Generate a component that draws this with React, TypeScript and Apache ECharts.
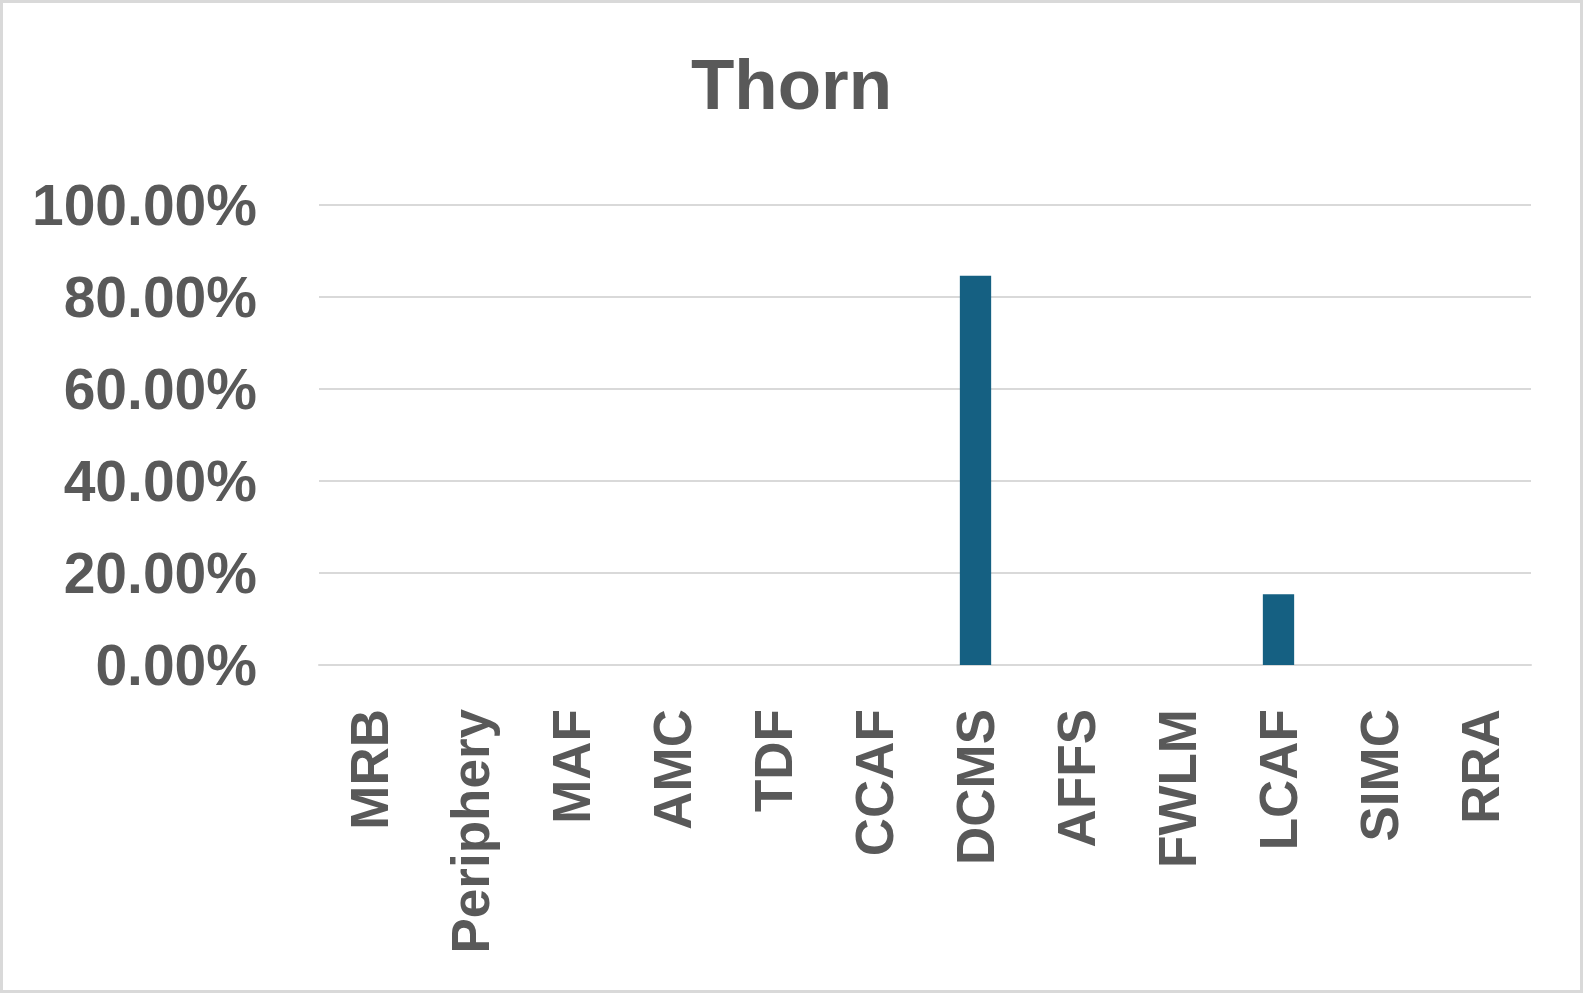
import React, { useEffect, useRef } from "react";
import * as echarts from "echarts";

const categories = ["MRB", "Periphery", "MAF", "AMC", "TDF", "CCAF", "DCMS", "AFFS", "FWLM", "LCAF", "SIMC", "RRA"];
const values = [0, 0, 0, 0, 0, 0, 0.8462, 0, 0, 0.1538, 0, 0];
const titleText = "Thorn";

export default function App() {
  const ref = useRef<HTMLDivElement>(null);
  useEffect(() => {
    if (!ref.current) return;
    const chart = echarts.init(ref.current, null, { renderer: "svg" });
    const font = "'Liberation Sans', Arial, sans-serif";
    chart.setOption({
      animation: false,
      backgroundColor: "transparent",
      title: {
        text: titleText,
        left: "center",
        top: 44,
        textStyle: { fontFamily: font, fontWeight: "bold", fontSize: 71, color: "#595959" },
      },
      grid: { left: 319, right: 52, top: 205, bottom: 328, containLabel: false },
      xAxis: {
        type: "category",
        data: categories,
        axisLine: { show: true, lineStyle: { color: "#d9d9d9", width: 2 } },
        axisTick: { show: false },
        axisLabel: {
          rotate: 90,
          margin: 44,
          interval: 0,
          fontFamily: font,
          fontWeight: "bold",
          fontSize: 53,
          color: "#595959",
        },
      },
      yAxis: {
        type: "value",
        min: 0,
        max: 1,
        interval: 0.2,
        axisLine: { show: false },
        axisTick: { show: false },
        splitLine: { lineStyle: { color: "#d9d9d9", width: 2 } },
        axisLabel: {
          margin: 62,
          fontFamily: font,
          fontWeight: "bold",
          fontSize: 57,
          color: "#595959",
          formatter: (v: number) => (v * 100).toFixed(2) + "%",
        },
      },
      series: [
        {
          type: "bar",
          data: values,
          barWidth: "31%",
          itemStyle: { color: "#156082" },
        },
      ],
    });
    return () => chart.dispose();
  }, []);
  return (
    <div style={{ position: "fixed", left: 0, top: 0, width: 1583, height: 993, background: "#fff" }}>
      <div ref={ref} style={{ position: "absolute", left: 0, top: 0, width: 1583, height: 993 }} />
      <div
        style={{
          position: "absolute",
          left: 0,
          top: 0,
          width: 1583,
          height: 993,
          border: "3px solid #d9d9d9",
          boxSizing: "border-box",
          pointerEvents: "none",
        }}
      />
    </div>
  );
}
